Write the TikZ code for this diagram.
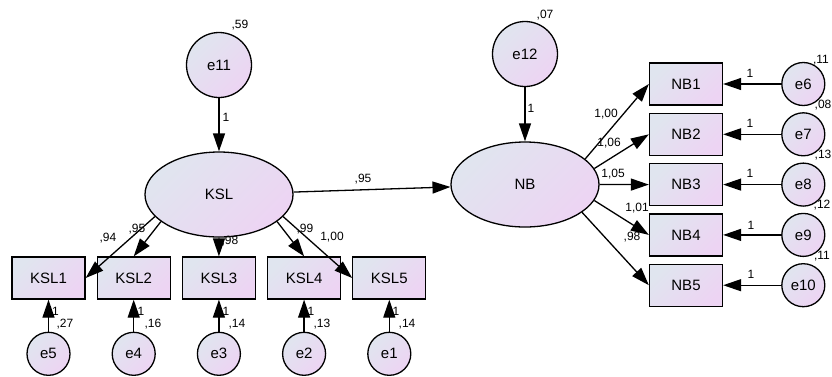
\documentclass[tikz,border=0pt]{standalone}
\usepackage{fontspec}
\setmainfont{Liberation Sans}
\usetikzlibrary{shapes.geometric,arrows.meta,positioning}
\definecolor{amosleft}{RGB}{224,229,239}
\definecolor{amosright}{RGB}{237,212,243}
\tikzset{
  shaded/.style={draw=black, line width=1.3pt, top color=amosleft, bottom color=amosright, shading angle=45, inner sep=0pt, font=\fontsize{15}{15}\selectfont},
  latent/.style={shaded, ellipse, minimum width=148pt, minimum height=85pt},
  observed/.style={shaded, rectangle, minimum width=73pt, minimum height=42pt},
  err/.style={shaded, circle, minimum size=43pt},
  bigerr/.style={err, minimum size=65pt},
  reg/.style={-{Triangle[length=18pt,width=12pt]}, line width=1.3pt},
  est/.style={font=\fontsize{12}{12}\selectfont, inner sep=0pt},
}
\begin{document}
\begin{tikzpicture}[x=1pt, y=-1pt]
\useasboundingbox (0,0) rectangle (832,376);
% latent variables
\node[latent] (KSL) at (219,194.5) {KSL};
\node[latent] (NB) at (525,184.5) {NB};
\node[bigerr] (e11) at (219,65) {e11};
\node[bigerr] (e12) at (525,54) {e12};
% KSL indicators
\node[observed] (KSL1) at (48.5,278) {KSL1};
\node[observed] (KSL2) [right=10.9pt of KSL1] {KSL2};
\node[observed] (KSL3) [right=10.9pt of KSL2] {KSL3};
\node[observed] (KSL4) [right=10.9pt of KSL3] {KSL4};
\node[observed] (KSL5) [right=10.9pt of KSL4] {KSL5};
\node[err] (e5) [below=32pt of KSL1] {e5};
\node[err] (e4) [below=32pt of KSL2] {e4};
\node[err] (e3) [below=32pt of KSL3] {e3};
\node[err] (e2) [below=32pt of KSL4] {e2};
\node[err] (e1) [below=32pt of KSL5] {e1};
% NB indicators
\node[observed] (NB1) at (686,84) {NB1};
\node[observed] (NB2) [below=7pt of NB1] {NB2};
\node[observed] (NB3) [below=7pt of NB2] {NB3};
\node[observed] (NB4) [below=7pt of NB3] {NB4};
\node[observed] (NB5) [below=7pt of NB4] {NB5};
\node[err] (e6) [right=58pt of NB1] {e6};
\node[err] (e7) [right=58pt of NB2] {e7};
\node[err] (e8) [right=58pt of NB3] {e8};
\node[err] (e9) [right=58pt of NB4] {e9};
\node[err] (e10) [right=58pt of NB5] {e10};
% paths
\draw[reg] (e11) -- (KSL);
\draw[reg] (e12) -- (NB);
\draw[reg] (KSL) -- (NB);
\draw[reg] (KSL.199) -- (KSL1.east);
\draw[reg] (KSL.205) -- (KSL2.north);
\draw[reg] (KSL) -- (KSL3);
\draw[reg] (KSL.-25) -- (KSL4.north);
\draw[reg] (KSL.-19) -- (KSL5.west);
\draw[reg] (NB.23) -- (NB1.west);
\draw[reg] (NB.13) -- (NB2.west);
\draw[reg] (NB) -- (NB3);
\draw[reg] (NB.-13) -- (NB4.west);
\draw[reg] (NB.-26) -- (NB5.west);
\draw[reg] (e5) -- (KSL1);
\draw[reg] (e4) -- (KSL2);
\draw[reg] (e3) -- (KSL3);
\draw[reg] (e2) -- (KSL4);
\draw[reg] (e1) -- (KSL5);
\draw[reg] (e6) -- (NB1);
\draw[reg] (e7) -- (NB2);
\draw[reg] (e8) -- (NB3);
\draw[reg] (e9) -- (NB4);
\draw[reg] (e10) -- (NB5);
% estimates
\node[est] (v11) at (240,25) {,59};
\node[est] (w11) at (226,117) {1};
\node[est] (v12) at (545,15) {,07};
\node[est] (w12) at (531,108) {1};
\node[est] (b1) at (363,179) {,95};
\node[est] (l1) at (108,238) {,94};
\node[est] (l2) at (137,229) {,95};
\node[est] (l3) at (230,241) {,98};
\node[est] (l4) at (305,229) {,99};
\node[est] (l5) at (332,237) {1,00};
\node[est] (w5) at (55.5,311) {1};
\node[est] (w4) at (141,311) {1};
\node[est] (w3) at (226,311) {1};
\node[est] (w2) at (311,311) {1};
\node[est] (w1) at (396,311) {1};
\node[est] (v5) at (65,324) {,27};
\node[est] (v4) at (153,324) {,16};
\node[est] (v3) at (237,324) {,14};
\node[est] (v2) at (322,324) {,13};
\node[est] (v1) at (407,324) {,14};
\node[est] (m1) at (606,114) {1,00};
\node[est] (m2) at (609,143) {1,06};
\node[est] (m3) at (613,174) {1,05};
\node[est] (m4) at (637,208) {1,01};
\node[est] (m5) at (632,237) {,98};
\node[est] (w6) at (750,73) {1};
\node[est] (w7) at (750,123) {1};
\node[est] (w8) at (750,173) {1};
\node[est] (w9) at (751,225) {1};
\node[est] (w10) at (751,274) {1};
\node[est] (v6) at (821,60) {,11};
\node[est] (v7) at (823,105) {,08};
\node[est] (v8) at (823,155) {,13};
\node[est] (v9) at (822,205) {,12};
\node[est] (v10) at (822,256) {,11};
\end{tikzpicture}
\end{document}
